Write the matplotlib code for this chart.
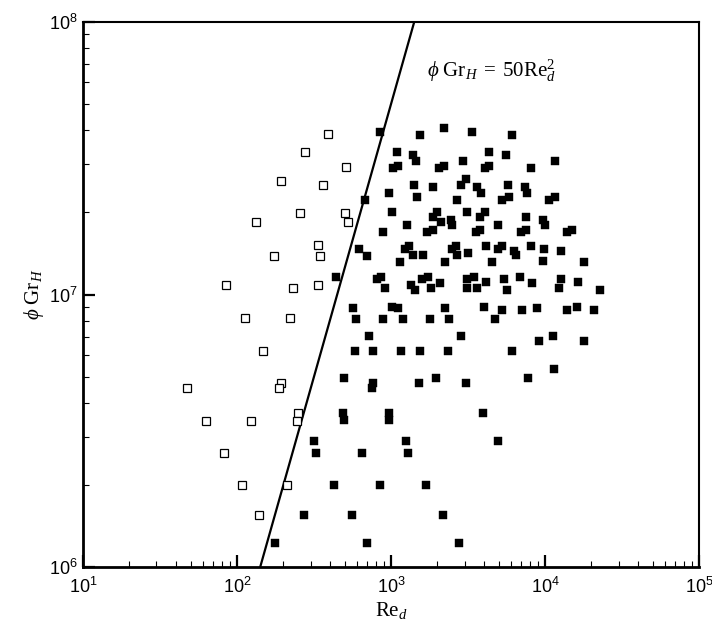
import numpy as np
import matplotlib
matplotlib.use('Agg')
import matplotlib.pyplot as plt
from matplotlib.ticker import LogLocator, NullFormatter, FuncFormatter

plt.rcParams['mathtext.fontset'] = 'custom'
plt.rcParams['mathtext.rm'] = 'Liberation Serif'
plt.rcParams['mathtext.it'] = 'Liberation Serif:italic'
plt.rcParams['mathtext.sf'] = 'Liberation Sans'
plt.rcParams['font.family'] = ['Liberation Serif', 'DejaVu Serif']

# open squares: cases below the 50 Re^2 line
re_open = [388, 275, 513, 194, 363, 256, 505, 133, 526, 337, 175, 344, 85, 230, 337,
           113, 221, 148, 47.6, 194, 188, 250, 62.6, 123, 246, 82.3, 107, 210, 138]
gr_open = [3.87e7, 3.34e7, 2.93e7, 2.62e7, 2.52e7, 1.99e7, 1.99e7, 1.84e7, 1.84e7, 1.52e7,
           1.39e7, 1.39e7, 1.08e7, 1.06e7, 1.08e7, 8.18e6, 8.18e6, 6.22e6, 4.54e6, 4.75e6,
           4.54e6, 3.68e6, 3.43e6, 3.43e6, 3.43e6, 2.62e6, 2.0e6, 2.0e6, 1.55e6]

# filled squares
re_filled = [
    848, 1543, 2209, 3357, 6078,
    1089, 1396, 1453, 1026, 1115, 2050, 2209, 2935, 4310, 4078, 4310, 5582, 11612, 8111,
    678, 1417, 1866, 971, 3069, 2836, 3634, 3841, 1469, 2671, 5725, 7415, 7640, 5280, 5837,
    10617, 11612,
    1011, 1981, 1883, 3101, 4078, 3784, 1265, 2112, 2441, 2479, 883, 1721, 1883, 3564, 3784,
    7494, 4975, 9662, 10000, 6985, 7527, 13833, 14906,
    623, 695, 1144, 1309, 1233, 1383, 1621, 2242, 2479, 2643, 2683, 3177, 4158, 4508, 4931,
    5280, 6290, 6452, 8111, 9851, 9662, 12701, 17920,
    438, 811, 861, 914, 1349, 1432, 1583, 1731, 1819, 2081, 3129, 3459, 3115, 3618, 4140,
    5417, 6881, 8172, 12701, 16381, 5665, 12327, 22757,
    564, 592, 1011, 1115, 2242, 4018, 883, 1191, 1792, 2380, 4736, 5233, 7089, 8876, 13833,
    16064, 20714,
    720, 2848, 9104, 11220, 17920, 581, 761, 1156, 1536, 2334, 6078,
    495, 764, 753, 1513, 1960, 3069, 7721, 11438,
    486, 495, 975, 975, 3940,
    315, 326, 648, 1252, 1290, 4931,
    426, 848, 1688,
    271, 556, 2176,
    176, 695, 2764,
]
gr_filled = [
    3.94e7, 3.85e7, 4.09e7, 3.94e7, 3.85e7,
    3.34e7, 3.25e7, 3.10e7, 2.92e7, 2.97e7, 2.92e7, 2.97e7, 3.10e7, 3.34e7, 2.92e7, 2.97e7,
    3.25e7, 3.10e7, 2.92e7,
    2.22e7, 2.52e7, 2.47e7, 2.36e7, 2.65e7, 2.52e7, 2.47e7, 2.36e7, 2.27e7, 2.22e7, 2.52e7,
    2.47e7, 2.36e7, 2.22e7, 2.27e7, 2.22e7, 2.27e7,
    2.00e7, 2.00e7, 1.93e7, 2.00e7, 2.00e7, 1.93e7, 1.80e7, 1.84e7, 1.88e7, 1.80e7, 1.70e7,
    1.70e7, 1.72e7, 1.70e7, 1.72e7, 1.93e7, 1.80e7, 1.88e7, 1.80e7, 1.70e7, 1.72e7, 1.70e7,
    1.72e7,
    1.47e7, 1.39e7, 1.32e7, 1.51e7, 1.47e7, 1.40e7, 1.40e7, 1.32e7, 1.47e7, 1.51e7, 1.40e7,
    1.42e7, 1.51e7, 1.32e7, 1.47e7, 1.51e7, 1.44e7, 1.40e7, 1.51e7, 1.47e7, 1.33e7, 1.44e7,
    1.32e7,
    1.16e7, 1.14e7, 1.16e7, 1.06e7, 1.08e7, 1.04e7, 1.14e7, 1.16e7, 1.06e7, 1.105e7, 1.14e7,
    1.16e7, 1.06e7, 1.06e7, 1.11e7, 1.14e7, 1.16e7, 1.105e7, 1.14e7, 1.11e7, 1.04e7, 1.06e7,
    1.04e7,
    8.95e6, 8.10e6, 9.02e6, 8.95e6, 8.95e6, 9.02e6, 8.10e6, 8.10e6, 8.10e6, 8.10e6, 8.10e6,
    8.77e6, 8.77e6, 8.95e6, 8.77e6, 9.02e6, 8.77e6,
    7.05e6, 7.05e6, 6.77e6, 7.05e6, 6.77e6, 6.23e6, 6.23e6, 6.23e6, 6.23e6, 6.23e6, 6.23e6,
    4.95e6, 4.75e6, 4.55e6, 4.75e6, 4.95e6, 4.75e6, 4.95e6, 5.34e6,
    3.68e6, 3.46e6, 3.68e6, 3.46e6, 3.68e6,
    2.91e6, 2.62e6, 2.62e6, 2.91e6, 2.62e6, 2.91e6,
    2.0e6, 2.0e6, 2.0e6,
    1.55e6, 1.55e6, 1.55e6,
    1.23e6, 1.23e6, 1.23e6,
]

# boundary line phi*Gr_H = 50 Re_d^2
line_coef = 50
re_line = np.array([10.0, 1e5])

fig = plt.figure(figsize=(7.12, 6.25), dpi=100)
ax = fig.add_axes([0.1166, 0.0928, 0.8652, 0.872])

ax.plot(re_line, line_coef * re_line**2, color='black', lw=1.6, zorder=2)
ax.plot(re_open, gr_open, 's', ms=5.8, mfc='white', mec='black', mew=0.9,
        linestyle='none', zorder=3)
ax.plot(re_filled, gr_filled, 's', ms=5.8, mfc='black', mec='black', mew=0.3,
        linestyle='none', zorder=3)

ax.set_xscale('log')
ax.set_yscale('log')
ax.set_xlim(1e1, 1e5)
ax.set_ylim(1e6, 1e8)

fmt = FuncFormatter(lambda v, p: r'$\mathsf{10^{%d}}$' % round(np.log10(v)))
ax.xaxis.set_major_locator(LogLocator(base=10, numticks=10))
ax.yaxis.set_major_locator(LogLocator(base=10, numticks=10))
ax.xaxis.set_minor_locator(LogLocator(base=10, subs=range(2, 10), numticks=20))
ax.yaxis.set_minor_locator(LogLocator(base=10, subs=range(2, 10), numticks=20))
ax.xaxis.set_major_formatter(fmt)
ax.yaxis.set_major_formatter(fmt)
ax.xaxis.set_minor_formatter(NullFormatter())
ax.yaxis.set_minor_formatter(NullFormatter())

ax.tick_params(which='both', direction='in', top=False, right=False, labelsize=13)
ax.tick_params(which='major', length=8.5, width=1.6)
ax.tick_params(which='minor', length=4.5, width=0.8)
ax.tick_params(axis='x', which='major', pad=7)
ax.tick_params(axis='y', which='major', pad=4)

for side in ['left', 'bottom']:
    ax.spines[side].set_linewidth(2.0)
for side in ['top', 'right']:
    ax.spines[side].set_linewidth(1.5)

ax.set_xlabel(r'$\mathrm{Re}_d$', fontsize=15, labelpad=2)
ax.set_ylabel(r'$\phi\ \mathrm{Gr}_H$', fontsize=15, labelpad=2)

ax.text(1713, 6.28e7, r'$\phi\ \mathrm{Gr}_H\;=\;50\mathrm{Re}_d^2$', fontsize=15,
        ha='left', va='baseline')

plt.savefig('out.png', dpi=100)
plt.close()
